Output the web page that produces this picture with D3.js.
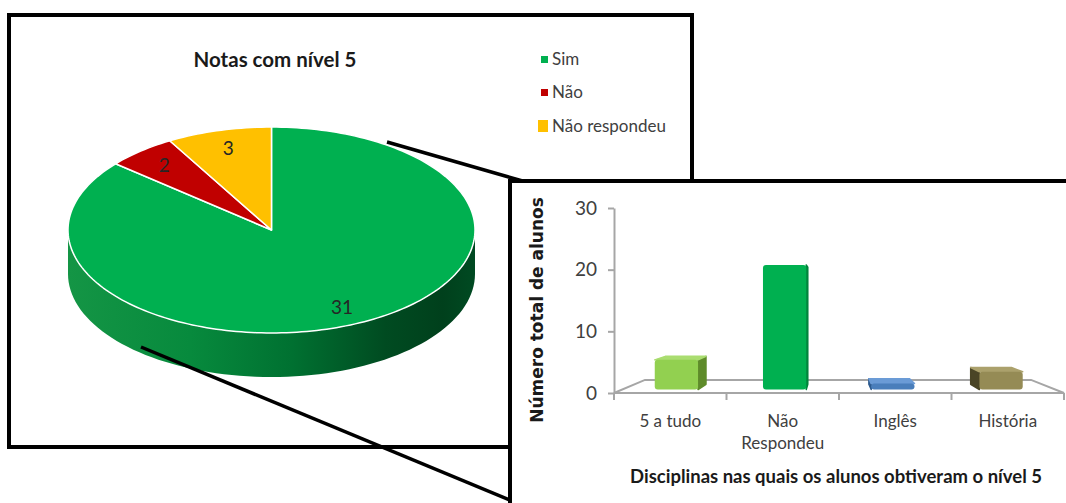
<!DOCTYPE html>
<html>
<head>
<meta charset="utf-8">
<script src="https://cdn.jsdelivr.net/npm/d3@7"></script>
<style>
  html, body { margin: 0; padding: 0; background: #fff; }
  svg { display: block; }
</style>
</head>
<body>
<svg id="chart" width="1066" height="503"></svg>
<script>
// ---- pie data ----
const pieLabels = ["Sim", "Não", "Não respondeu"];
const pieValues = [31, 2, 3];
const pieColors = ["#00B050", "#C00000", "#FFC000"];

// ---- bar data ----
const categories = ["5 a tudo", "Não Respondeu", "Inglês", "História"];
const barValues = [5, 21, 1, 3];
const yTicks = [0, 10, 20, 30];
const barFront = ["#92D050", "#00B050", "#4A7EBB", "#958B55"];
const barTop   = ["#aadd70", "#2cc470", "#6b9bd6", "#aba16c"];
const barSide  = ["#5e8b2a", "#00843b", "#2d5a8e", "#4a4526"];

const svg = d3.select("#chart");
const defs = svg.append("defs");

// ================= Pie panel =================
svg.append("rect")
  .attr("x", 9).attr("y", 15).attr("width", 683).attr("height", 432)
  .attr("fill", "#fff").attr("stroke", "#000").attr("stroke-width", 4);

svg.append("text")
  .attr("x", 275).attr("y", 67)
  .attr("text-anchor", "middle")
  .attr("font-family", "Lato, sans-serif").attr("font-weight", "bold")
  .attr("font-size", 20.5).attr("fill", "#1a1a1a")
  .text("Notas com nível 5");

const cx = 271.5, cy = 230, rx = 203.5, ry = 103, depth = 44;
const ept = (a, r) => [cx + rx * r * Math.sin(a), cy - ry * r * Math.cos(a)];

const arcs = d3.pie().sort(null).value(d => d)(pieValues);

// side wall of the disc (only the front half is visible)
const sideGrad = defs.append("linearGradient").attr("id", "sideGrad")
  .attr("gradientUnits", "userSpaceOnUse")
  .attr("x1", cx - rx).attr("x2", cx + rx).attr("y1", 0).attr("y2", 0);
[[0, "#149545"], [0.3, "#078a3d"], [0.55, "#007131"], [0.78, "#004b21"], [0.92, "#00401c"], [1, "#004a22"]]
  .forEach(([o, c]) => sideGrad.append("stop").attr("offset", o).attr("stop-color", c));

function sidePath(a0, a1) {
  const n = 80, top = [], bot = [];
  for (let i = 0; i <= n; i++) {
    const a = a0 + (a1 - a0) * i / n;
    const p = ept(a, 1);
    top.push(p);
    bot.push([p[0], p[1] + depth]);
  }
  return "M" + top.map(p => p.join(",")).join("L") +
         "L" + bot.reverse().map(p => p.join(",")).join("L") + "Z";
}
arcs.forEach((d, i) => {
  const a0 = Math.max(d.startAngle, Math.PI / 2);
  const a1 = Math.min(d.endAngle, 3 * Math.PI / 2);
  if (a1 > a0) {
    svg.append("path").attr("d", sidePath(a0, a1))
      .attr("fill", i === 0 ? "url(#sideGrad)" : d3.color(pieColors[i]).darker(1));
  }
});

// top face slices
function slicePath(d) {
  const n = Math.max(8, Math.ceil((d.endAngle - d.startAngle) * 40));
  const pts = [[cx, cy]];
  for (let i = 0; i <= n; i++) {
    pts.push(ept(d.startAngle + (d.endAngle - d.startAngle) * i / n, 1));
  }
  return "M" + pts.map(p => p.join(",")).join("L") + "Z";
}
svg.append("g").selectAll("path").data(arcs).join("path")
  .attr("d", slicePath)
  .attr("fill", (d, i) => pieColors[i])
  .attr("stroke", "#fff").attr("stroke-width", 1.5).attr("stroke-linejoin", "round");

// value labels on the slices
svg.append("g").selectAll("text").data(arcs).join("text")
  .attr("x", d => ept((d.startAngle + d.endAngle) / 2, 0.82)[0])
  .attr("y", d => ept((d.startAngle + d.endAngle) / 2, 0.82)[1] + 7)
  .attr("text-anchor", "middle")
  .attr("font-family", "Lato, sans-serif").attr("font-size", 19)
  .attr("fill", "#262626")
  .text(d => d.data);

// legend
const legendY = d3.scaleOrdinal().domain(pieLabels).range([65, 98, 132]);
const legend = svg.append("g").selectAll("g").data(pieLabels).join("g");
legend.append("rect")
  .attr("x", (d, i) => i === 2 ? 538 : 541)
  .attr("y", (d, i) => i === 2 ? legendY(d) - 12 : legendY(d) - 9)
  .attr("width", (d, i) => i === 2 ? 10 : 7)
  .attr("height", (d, i) => i === 2 ? 12 : 7)
  .attr("fill", (d, i) => pieColors[i]);
legend.append("text")
  .attr("x", 552).attr("y", d => legendY(d))
  .attr("font-family", "Lato, sans-serif").attr("font-size", 17)
  .attr("fill", "#404040")
  .text(d => d);

// connector lines between the two panels
svg.append("line").attr("x1", 387).attr("y1", 142).attr("x2", 526).attr("y2", 182)
  .attr("stroke", "#000").attr("stroke-width", 3.5);
svg.append("line").attr("x1", 141).attr("y1", 347).attr("x2", 512).attr("y2", 501)
  .attr("stroke", "#000").attr("stroke-width", 3.5);

// ================= Bar panel =================
svg.append("rect")
  .attr("x", 510).attr("y", 181).attr("width", 600).attr("height", 400)
  .attr("fill", "#fff").attr("stroke", "#000").attr("stroke-width", 4);

const x0 = 614, x1 = 1064;
const x = d3.scaleBand().domain(categories).range([x0, x1])
  .paddingInner(0.6).paddingOuter(0.3);
const y = d3.scaleLinear().domain([0, 30]).range([393, 208]);

// simple perspective: points recede toward a vanishing point
const vx = 832, vy = 301;
const kFloorBack = 0.858, kBarFront = 0.962, kBarBack = 0.905;
const proj = (px, py, k) => [vx + (px - vx) * k, vy + (py - vy) * k];

// floor
const floorPts = [proj(x0, y(0), 1), proj(x1, y(0), 1), proj(x1, y(0), kFloorBack), proj(x0, y(0), kFloorBack)];
svg.append("path")
  .attr("d", "M" + floorPts.map(p => p.join(",")).join("L") + "Z")
  .attr("fill", "none").attr("stroke", "#a6a6a6").attr("stroke-width", 2);

// category ticks below the front edge
const step = x.step();
svg.append("g").selectAll("line").data(d3.range(categories.length + 1)).join("line")
  .attr("x1", i => x0 + i * step).attr("x2", i => x0 + i * step)
  .attr("y1", y(0)).attr("y2", y(0) + 7)
  .attr("stroke", "#a6a6a6").attr("stroke-width", 2);

// value axis
const yAxis = svg.append("g").attr("transform", `translate(${x0},0)`)
  .call(d3.axisLeft(y).tickValues(yTicks).tickSize(6).tickSizeOuter(0).tickPadding(11));
yAxis.select(".domain").attr("stroke", "#a6a6a6").attr("stroke-width", 2);
yAxis.selectAll(".tick line").attr("stroke", "#a6a6a6").attr("stroke-width", 2);
yAxis.selectAll(".tick text")
  .attr("font-family", "Lato, sans-serif").attr("font-size", 19).attr("fill", "#404040");

// bars
const poly = pts => "M" + pts.map(p => p.join(",")).join("L") + "Z";
const bars = svg.append("g").selectAll("g").data(categories).join("g");
bars.each(function (c, i) {
  const g = d3.select(this);
  const bx0 = x(c), bx1 = x(c) + x.bandwidth();
  const yt = y(barValues[i]), yb = y(0);
  const F = (px, py) => proj(px, py, kBarFront);
  const B = (px, py) => proj(px, py, kBarBack);
  // side face
  const sx = bx1 < vx ? bx1 : (bx0 > vx ? bx0 : null);
  if (sx !== null) {
    g.append("path").attr("d", poly([F(sx, yt), F(sx, yb), B(sx, yb), B(sx, yt)]))
      .attr("fill", barSide[i]).attr("stroke", barSide[i]).attr("stroke-width", 1.5)
      .attr("stroke-linejoin", "round");
  }
  // top face
  if (yt > vy) {
    g.append("path").attr("d", poly([F(bx0, yt), F(bx1, yt), B(bx1, yt), B(bx0, yt)]))
      .attr("fill", barTop[i]).attr("stroke", barTop[i]).attr("stroke-width", 1.5)
      .attr("stroke-linejoin", "round");
  }
  // front face
  const p0 = F(bx0, yt), p1 = F(bx1, yb);
  g.append("rect")
    .attr("x", p0[0]).attr("y", p0[1])
    .attr("width", p1[0] - p0[0]).attr("height", p1[1] - p0[1])
    .attr("rx", 3)
    .attr("fill", barFront[i]);
});

// category labels (wrapped when wider than the band step)
const catLabels = svg.append("g").selectAll("text").data(categories).join("text")
  .attr("text-anchor", "middle")
  .attr("font-family", "Lato, sans-serif").attr("font-size", 17)
  .attr("fill", "#404040");
catLabels.each(function (c) {
  const t = d3.select(this);
  const cxl = x(c) + x.bandwidth() / 2;
  t.text(c);
  if (this.getComputedTextLength() > 95) {
    t.text(null);
    c.split(" ").forEach((w, j) => {
      t.append("tspan").attr("x", cxl).attr("y", 427 + j * 22).text(w);
    });
  } else {
    t.attr("x", cxl).attr("y", 427);
  }
});

// axis titles
svg.append("text")
  .attr("transform", "translate(543,310) rotate(-90)")
  .attr("text-anchor", "middle")
  .attr("font-family", "'DejaVu Sans', sans-serif").attr("font-weight", "bold")
  .attr("font-size", 17).attr("fill", "#1a1a1a")
  .text("Número total de alunos");

svg.append("text")
  .attr("x", 836).attr("y", 483)
  .attr("text-anchor", "middle")
  .attr("font-family", "Lato, sans-serif").attr("font-weight", "bold")
  .attr("font-size", 18.5).attr("fill", "#1a1a1a")
  .text("Disciplinas nas quais os alunos obtiveram o nível 5");
</script>
</body>
</html>
